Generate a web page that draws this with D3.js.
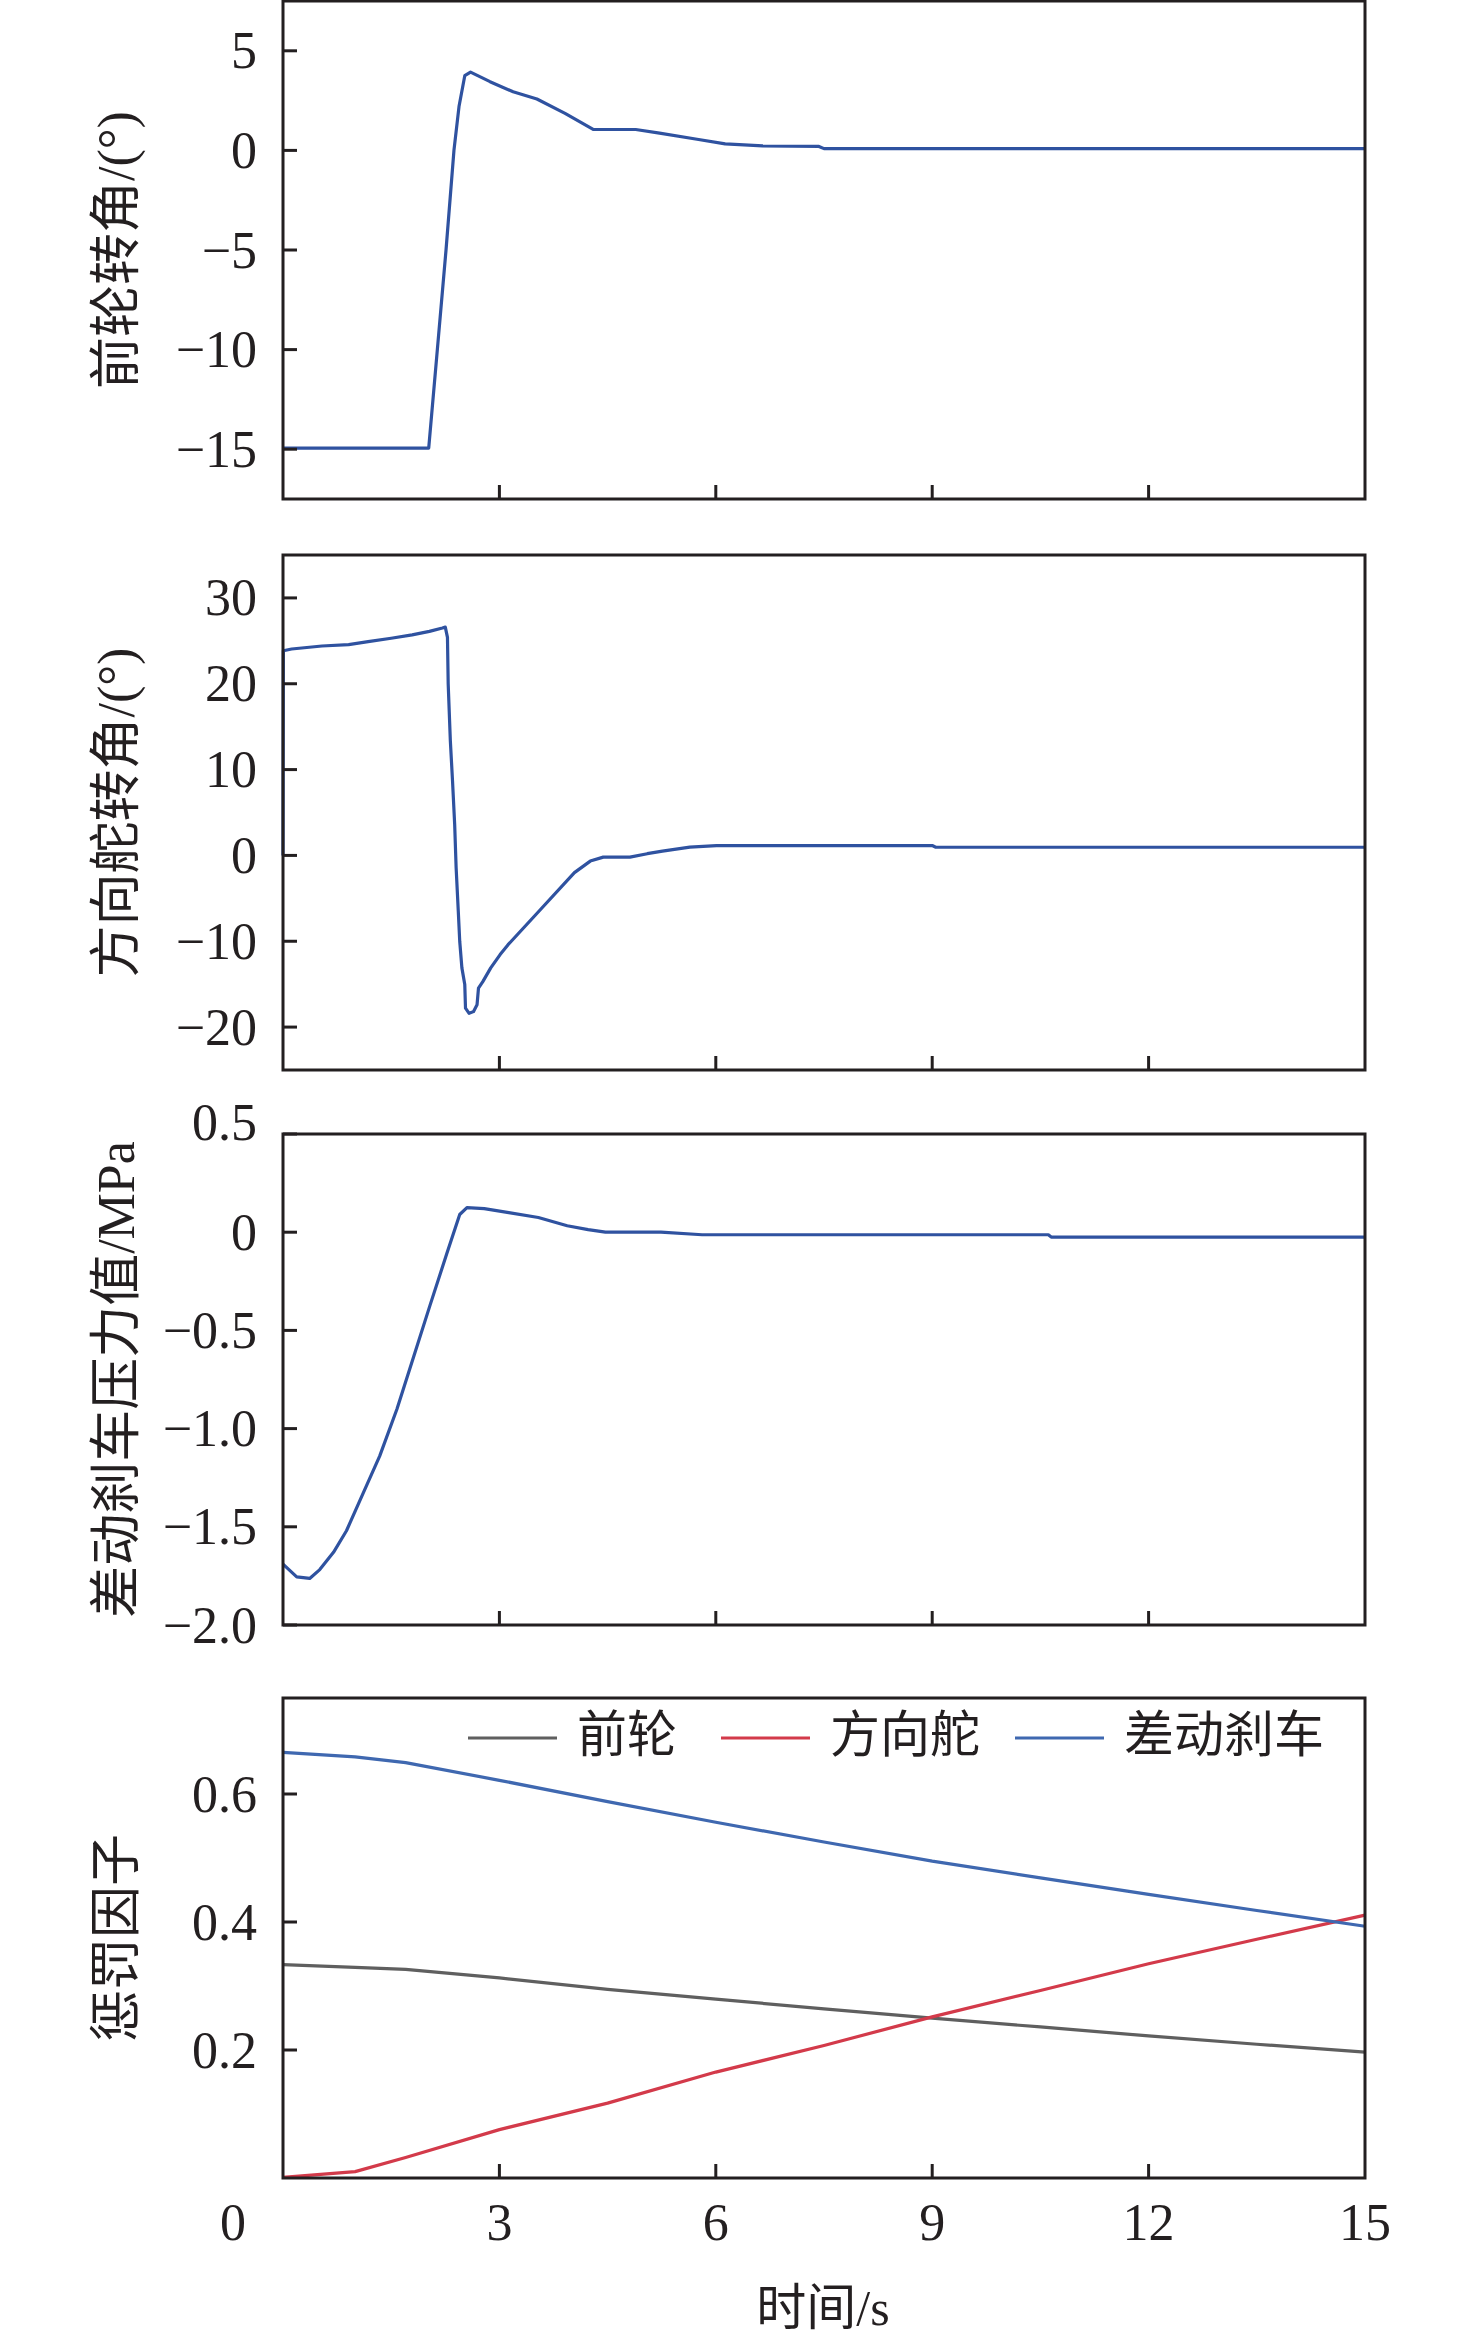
<!DOCTYPE html>
<html>
  <head>
    <meta charset="utf-8">
    <title>惩罚因子</title>
    <script src="https://d3js.org/d3.v7.min.js"></script>
    <style>
      body { margin: 0; background: #fff; }
      svg { display: block; }
    </style>
  </head>
  <body>
    <svg width="1476" height="2343"></svg>

    <script>
      // front wheel angle (deg)
      const frontTime  = [0, 2.02, 2.13, 2.26, 2.37, 2.44, 2.52, 2.6, 2.87, 3.19, 3.52, 3.91, 4.3, 4.89, 5.22, 5.74, 6.13, 6.65, 7.43, 7.5, 15];
      const frontAngle = [-14.95, -14.95, -10.4, -5, 0, 2.2, 3.75, 3.93, 3.45, 2.94, 2.58, 1.86, 1.05, 1.05, 0.87, 0.56, 0.33, 0.23, 0.2, 0.09, 0.09];

      // rudder angle (deg)
      const rudderTime  = [0, 0.005, 0.12, 0.54, 0.91, 1.18, 1.5, 1.79, 2.03, 2.21, 2.25, 2.28, 2.29, 2.32, 2.35, 2.38, 2.4, 2.43, 2.45, 2.48, 2.52, 2.53, 2.58, 2.64, 2.69, 2.71, 2.77, 2.88, 3.01, 3.12, 3.57, 4.04, 4.26, 4.44, 4.81, 5.05, 5.26, 5.64, 6.01, 9.0, 9.05, 15];
      const rudderAngle = [0, 23.85, 24.05, 24.4, 24.55, 24.9, 25.3, 25.7, 26.1, 26.5, 26.6, 25.4, 20, 13.35, 8.7, 3.6, -1.4, -6.5, -10, -13.1, -15.05, -17.8, -18.4, -18.2, -17.4, -15.45, -14.7, -13.1, -11.55, -10.4, -6.3, -2.0, -0.66, -0.2, -0.2, 0.2, 0.5, 0.97, 1.15, 1.15, 0.95, 0.95];

      // differential brake pressure (MPa)
      const brakeTime     = [0, 0.19, 0.37, 0.51, 0.7, 0.88, 1.11, 1.34, 1.58, 1.81, 2.04, 2.27, 2.45, 2.55, 2.79, 3.13, 3.54, 3.94, 4.23, 4.47, 5.24, 5.81, 10.61, 10.65, 15];
      const brakePressure = [-1.69, -1.755, -1.763, -1.718, -1.63, -1.52, -1.33, -1.14, -0.9, -0.635, -0.37, -0.11, 0.09, 0.125, 0.12, 0.1, 0.075, 0.033, 0.013, 0.0, 0.0, -0.013, -0.013, -0.025, -0.025];

      // penalty factors
      const penaltyTime   = [0, 1, 1.7, 3, 4.5, 6, 7.5, 9, 10.5, 12, 13.5, 15];
      const penaltyFront  = [0.3333, 0.329, 0.326, 0.3126, 0.2946, 0.2795, 0.2643, 0.2497, 0.236, 0.222, 0.209, 0.1966];
      const penaltyRudder = [0.001, 0.01, 0.032, 0.0756, 0.117, 0.1655, 0.207, 0.2518, 0.293, 0.3347, 0.373, 0.4107];
      const penaltyBrake  = [0.665, 0.658, 0.649, 0.6214, 0.588, 0.5558, 0.525, 0.495, 0.469, 0.4432, 0.418, 0.3934];

      const xTicks = [0, 3, 6, 9, 12, 15];
      const legendNames = ["前轮", "方向舵", "差动刹车"];

      const svg = d3.select("svg");
      const ink = "#231f20";
      const numFont = "'Liberation Serif', 'Times New Roman', serif";
      const cjkFont = "'Liberation Serif', 'Noto Sans CJK SC', serif";

      const left = 283, right = 1365;
      const x = d3.scaleLinear().domain([0, 15]).range([left, right]);

      const signed = d => d < 0 ? "\u2212" + (-d) : "" + d;
      const panels = [
        { top: 1,    bottom: 499,  domain: [-17.5, 7.5], ticks: [-15, -10, -5, 0, 5], fmt: signed, title: "前轮转角/(°)" },
        { top: 555,  bottom: 1070, domain: [-25, 35],    ticks: [-20, -10, 0, 10, 20, 30], fmt: signed, title: "方向舵转角/(°)" },
        { top: 1134, bottom: 1625, domain: [-2, 0.5],    ticks: [-2, -1.5, -1, -0.5, 0, 0.5], fmt: d => d === 0 ? "0" : (d < 0 ? "\u2212" : "") + Math.abs(d).toFixed(1), title: "差动刹车压力值/MPa" },
        { top: 1698, bottom: 2178, domain: [0, 0.75],    ticks: [0.2, 0.4, 0.6], fmt: d => d.toFixed(1), title: "惩罚因子" }
      ];

      panels.forEach(p => {
        p.y = d3.scaleLinear().domain(p.domain).range([p.bottom, p.top]);
      });

      function drawFrame(p) {
        const g = svg.append("g");
        // y ticks inside on left
        g.selectAll(".yt").data(p.ticks).enter().append("line")
          .attr("x1", left).attr("x2", left + 14)
          .attr("y1", d => p.y(d)).attr("y2", d => p.y(d))
          .attr("stroke", ink).attr("stroke-width", 3);
        // label sitting on the top border is lifted a bit, like the original
        g.selectAll(".yl").data(p.ticks).enter().append("text")
          .attr("x", 257).attr("y", d => p.y(d) - (Math.abs(p.y(d) - p.top) < 2 ? 12 : 0))
          .attr("text-anchor", "end").attr("dominant-baseline", "central")
          .attr("font-family", numFont).attr("font-size", 52).attr("fill", ink)
          .text(p.fmt);
        // x ticks inside on bottom
        g.selectAll(".xt").data(xTicks.slice(1, -1)).enter().append("line")
          .attr("x1", d => x(d)).attr("x2", d => x(d))
          .attr("y1", p.bottom).attr("y2", p.bottom - 14)
          .attr("stroke", ink).attr("stroke-width", 3);
        // frame
        g.append("rect")
          .attr("x", left).attr("y", p.top)
          .attr("width", right - left).attr("height", p.bottom - p.top)
          .attr("fill", "none").attr("stroke", ink).attr("stroke-width", 3);
        // y title
        g.append("text")
          .attr("transform", `translate(116,${(p.top + p.bottom) / 2}) rotate(-90)`)
          .attr("text-anchor", "middle").attr("dominant-baseline", "central")
          .attr("font-family", cjkFont).attr("font-size", 52).attr("fill", ink)
          .text(p.title);
      }

      function drawLine(p, ts, vs, color) {
        const line = d3.line().x(d => x(d[0])).y(d => p.y(d[1]));
        svg.append("path")
          .datum(ts.map((t, i) => [t, vs[i]]))
          .attr("d", line)
          .attr("fill", "none").attr("stroke", color)
          .attr("stroke-width", 3.2).attr("stroke-linejoin", "round");
      }

      const dark = "#2f52a0";
      drawLine(panels[0], frontTime, frontAngle, dark);
      drawLine(panels[1], rudderTime, rudderAngle, dark);
      drawLine(panels[2], brakeTime, brakePressure, dark);

      const pColors = ["#5f5f5f", "#d33a4a", "#3f68b0"];
      drawLine(panels[3], penaltyTime, penaltyFront, pColors[0]);
      drawLine(panels[3], penaltyTime, penaltyRudder, pColors[1]);
      drawLine(panels[3], penaltyTime, penaltyBrake, pColors[2]);

      panels.forEach(drawFrame);

      // legend
      const legX = [468, 721, 1015];
      const lg = svg.append("g");
      legendNames.forEach((name, i) => {
        lg.append("line")
          .attr("x1", legX[i]).attr("x2", legX[i] + 89)
          .attr("y1", 1738).attr("y2", 1738)
          .attr("stroke", pColors[i]).attr("stroke-width", 3);
        lg.append("text")
          .attr("x", legX[i] + 109).attr("y", 1735)
          .attr("dominant-baseline", "central")
          .attr("font-family", cjkFont).attr("font-size", 50).attr("fill", ink)
          .text(name);
      });

      // x tick labels
      svg.selectAll(".xl").data(xTicks).enter().append("text")
        .attr("x", d => d === 0 ? x(d) - 50 : x(d))
        .attr("y", 2222)
        .attr("text-anchor", "middle").attr("dominant-baseline", "central")
        .attr("font-family", numFont).attr("font-size", 52).attr("fill", ink)
        .text(d => d);

      svg.append("text")
        .attr("x", 823).attr("y", 2308)
        .attr("text-anchor", "middle").attr("dominant-baseline", "central")
        .attr("font-family", cjkFont).attr("font-size", 50).attr("fill", ink)
        .text("时间/s");
    </script>
  </body>
</html>
